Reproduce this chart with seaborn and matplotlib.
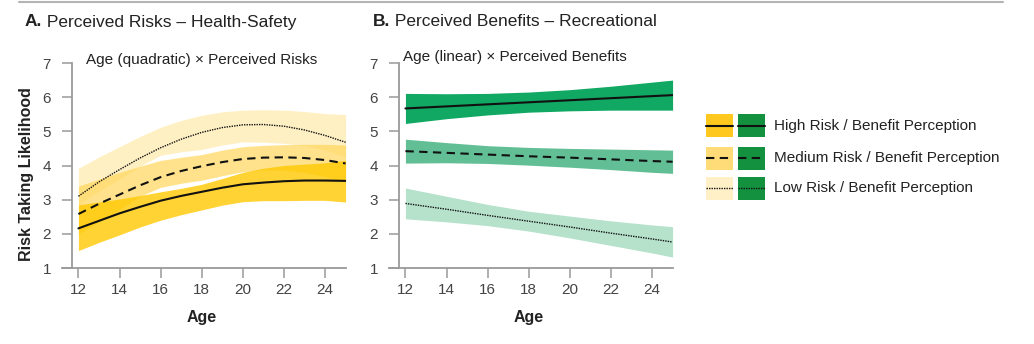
import numpy as np
import pandas as pd
import matplotlib
matplotlib.use("Agg")
import matplotlib.pyplot as plt
from matplotlib.patches import Rectangle
from matplotlib.lines import Line2D
import seaborn as sns

# ---------------- data ----------------
levels = ["High", "Medium", "Low"]
legend_labels = ["High Risk / Benefit Perception",
                 "Medium Risk / Benefit Perception",
                 "Low Risk / Benefit Perception"]

# Panel A: Age (quadratic) x Perceived Risks
ages_a = [12, 13, 14, 15, 16, 17, 18, 19, 20, 21, 22, 23, 24, 25]
a_high = [2.16, 2.38, 2.60, 2.79, 2.97, 3.11, 3.23, 3.35, 3.45, 3.50, 3.54, 3.56, 3.56, 3.55]
a_high_lo = [1.51, 1.75, 1.97, 2.20, 2.40, 2.56, 2.70, 2.84, 2.94, 2.97, 2.97, 2.98, 2.98, 2.93]
a_high_hi = [2.85, 2.93, 3.02, 3.12, 3.23, 3.33, 3.45, 3.62, 3.80, 3.92, 4.00, 4.04, 4.08, 4.15]
a_med = [2.58, 2.88, 3.15, 3.42, 3.66, 3.84, 3.98, 4.10, 4.19, 4.23, 4.24, 4.22, 4.16, 4.06]
a_med_lo = [2.00, 2.35, 2.72, 3.10, 3.36, 3.48, 3.57, 3.70, 3.82, 3.87, 3.86, 3.80, 3.68, 3.52]
a_med_hi = [3.40, 3.60, 3.80, 3.98, 4.15, 4.24, 4.32, 4.45, 4.55, 4.59, 4.61, 4.62, 4.62, 4.60]
a_low = [3.10, 3.52, 3.88, 4.22, 4.52, 4.77, 4.97, 5.11, 5.19, 5.20, 5.15, 5.04, 4.88, 4.68]
a_low_lo = [2.85, 3.25, 3.60, 3.98, 4.30, 4.40, 4.47, 4.60, 4.69, 4.68, 4.65, 4.58, 4.45, 4.25]
a_low_hi = [3.92, 4.25, 4.55, 4.85, 5.12, 5.32, 5.47, 5.57, 5.62, 5.63, 5.62, 5.58, 5.52, 5.49]

# Panel B: Age (linear) x Perceived Benefits
ages_b = [12, 14, 16, 18, 20, 22, 24, 25]
b_high = [5.67, 5.73, 5.79, 5.85, 5.91, 5.97, 6.03, 6.06]
b_high_lo = [5.23, 5.37, 5.48, 5.56, 5.60, 5.62, 5.62, 5.62]
b_high_hi = [6.11, 6.10, 6.11, 6.15, 6.22, 6.32, 6.44, 6.50]
b_med = [4.42, 4.37, 4.32, 4.27, 4.23, 4.18, 4.13, 4.11]
b_med_lo = [4.07, 4.08, 4.06, 4.01, 3.95, 3.88, 3.80, 3.77]
b_med_hi = [4.77, 4.67, 4.58, 4.53, 4.50, 4.48, 4.46, 4.45]
b_low = [2.89, 2.72, 2.54, 2.37, 2.20, 2.02, 1.85, 1.76]
b_low_lo = [2.44, 2.35, 2.24, 2.08, 1.88, 1.66, 1.44, 1.32]
b_low_hi = [3.34, 3.10, 2.86, 2.66, 2.52, 2.38, 2.26, 2.21]

x_ticks = [12, 14, 16, 18, 20, 22, 24]
y_ticks = [1, 2, 3, 4, 5, 6, 7]


def long_df(ages, series):
    rows = []
    for lvl, (m, lo, hi) in zip(levels, series):
        for a, mv, lv, hv in zip(ages, m, lo, hi):
            rows.append({"age": a, "mean": mv, "lo": lv, "hi": hv, "level": lvl})
    return pd.DataFrame(rows)


df_a = long_df(ages_a, [(a_high, a_high_lo, a_high_hi),
                        (a_med, a_med_lo, a_med_hi),
                        (a_low, a_low_lo, a_low_hi)])
df_b = long_df(ages_b, [(b_high, b_high_lo, b_high_hi),
                        (b_med, b_med_lo, b_med_hi),
                        (b_low, b_low_lo, b_low_hi)])

# ---------------- style ----------------
sns.set_style("white")
plt.rcParams["font.family"] = ["Liberation Sans", "DejaVu Sans"]

yellow_fill = {"High": ("#FFC800", 0.80), "Medium": ("#FFD75A", 0.70), "Low": ("#FFEBB0", 0.75)}
green_fill = {"High": ("#10A862", 1.0), "Medium": ("#62BF95", 1.0), "Low": ("#B6E2CC", 1.0)}
yellow_legend = {"High": "#FFC81E", "Medium": "#FFDC78", "Low": "#FFF0C8"}
green_legend = "#13913F"
dashes = {"High": "", "Medium": (4, 2.6), "Low": (1, 0.8)}
widths = {"High": 1.5, "Medium": 1.5, "Low": 1.0}

fig = plt.figure(figsize=(10.34, 3.44), dpi=100)
axA = fig.add_axes([62 / 1034, 1 - 268 / 344, 284 / 1034, 205 / 344])
axB = fig.add_axes([389 / 1034, 1 - 268 / 344, 284 / 1034, 205 / 344])

tick_col = "#444444"
spine_col = "#9a9a9a"
text_col = "#222222"


def draw(ax, df, fills, order):
    for lvl in order:
        sub = df[df["level"] == lvl]
        col, al = fills[lvl]
        ax.fill_between(sub["age"], sub["lo"], sub["hi"], color=col, alpha=al,
                        linewidth=0, zorder=1)
    for lvl in levels:
        sub = df[df["level"] == lvl]
        sns.lineplot(data=sub, x="age", y="mean", ax=ax, color="#111111",
                     linewidth=widths[lvl], dashes=False, legend=False, zorder=3)
        ln = ax.lines[-1]
        if dashes[lvl]:
            ln.set_dashes(dashes[lvl])
    ax.set_xlim(11.2, 25.02)
    ax.set_ylim(1, 7)
    ax.set_xticks(x_ticks)
    ax.set_yticks(y_ticks)
    for s in ["top", "right"]:
        ax.spines[s].set_visible(False)
    ax.spines["left"].set_position(("data", 11.68))
    for s in ["left", "bottom"]:
        ax.spines[s].set_color(spine_col)
        ax.spines[s].set_linewidth(1.3)
    ax.tick_params(axis="both", which="major", length=7, width=1.1,
                   color=spine_col, labelcolor=tick_col, labelsize=11,
                   direction="out", left=True, bottom=True)
    ax.tick_params(axis="y", pad=8)
    ax.tick_params(axis="x", pad=4)
    ax.set_xlabel("Age", fontsize=11.5, fontweight="bold", color=text_col)
    ax.xaxis.set_label_coords(0.49, -0.205)
    ax.set_ylabel("")


draw(axA, df_a, yellow_fill, ["Low", "Medium", "High"])
draw(axB, df_b, green_fill, ["Low", "Medium", "High"])

axA.set_ylabel("Risk Taking Likelihood", fontsize=11.5, fontweight="bold", color=text_col)
axA.yaxis.set_label_coords(-0.098, 0.46)

axA.text(0.085, 1.015, "Age (quadratic) × Perceived Risks", transform=axA.transAxes,
         fontsize=11, color=text_col, va="center", ha="left")
axB.text(0.049, 1.03, "Age (linear) × Perceived Benefits", transform=axB.transAxes,
         fontsize=11, color=text_col, va="center", ha="left")

# panel titles
for xpos, letter, rest in [(25, "A.", " Perceived Risks – Health-Safety"),
                           (373, "B.", " Perceived Benefits – Recreational")]:
    t = fig.text(xpos / 1034, 1 - 22 / 344, letter, fontsize=12.5, fontweight="bold",
                 color=text_col, va="center", ha="left")
    axA.annotate(rest, xy=(1, 0), xycoords=t, va="bottom", ha="left",
                 fontsize=12.5, color=text_col, annotation_clip=False)

# top rule
fig.add_artist(Line2D([19 / 1034, 1003 / 1034], [1 - 1.5 / 344, 1 - 1.5 / 344],
                      transform=fig.transFigure, color="#b4b4b4", linewidth=1.5))

# legend (manual)
row_y = [126, 158, 188]
pw, ph = 27, 23
for lvl, lab, yc in zip(levels, legend_labels, row_y):
    for x0, col in [(706, yellow_legend[lvl]), (738, green_legend)]:
        fig.add_artist(Rectangle((x0 / 1034, 1 - (yc + ph / 2) / 344), pw / 1034, ph / 344,
                                 transform=fig.transFigure, facecolor=col, edgecolor="none"))
        ln = Line2D([x0 / 1034, (x0 + pw) / 1034], [1 - yc / 344, 1 - yc / 344],
                    transform=fig.transFigure, color="#111111", linewidth=widths[lvl])
        if dashes[lvl]:
            ln.set_dashes(dashes[lvl])
        fig.add_artist(ln)
    fig.text(774 / 1034, 1 - yc / 344, lab, fontsize=11, color=text_col,
             va="center", ha="left")

fig.savefig("out.png", dpi=100, facecolor="white")
